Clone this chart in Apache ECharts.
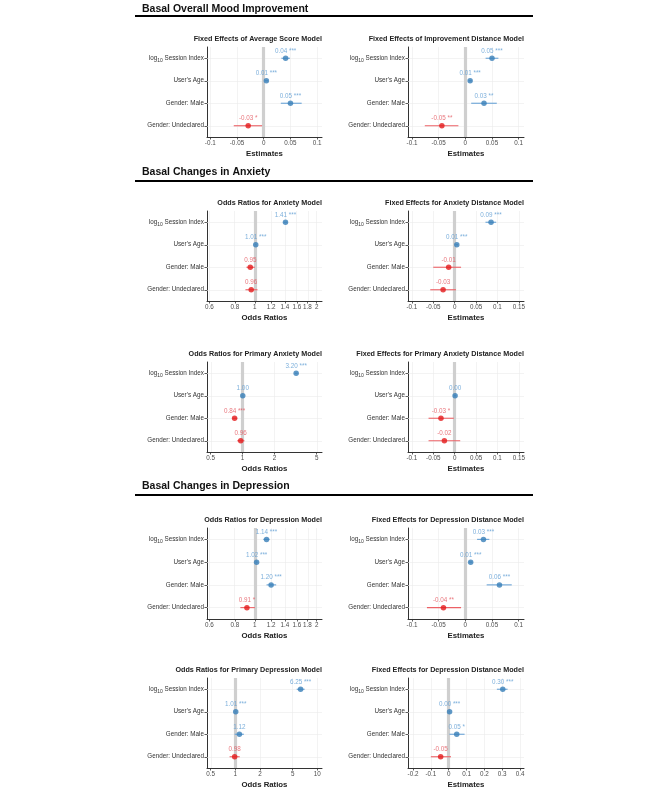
<!DOCTYPE html>
<html><head><meta charset="utf-8">
<script src="https://cdn.jsdelivr.net/npm/echarts@6/dist/echarts.min.js"></script>
<style>html,body{margin:0;padding:0;background:#fff}#c{width:666px;height:799px}</style>
</head><body><div id="c"></div>
<script>
// ---------- data ----------
const rowLabels = ['log10 Session Index', "User's Age", 'Gender: Male', 'Gender: Undeclared'];

const sectionTitles = ['Basal Overall Mood Improvement', 'Basal Changes in Anxiety', 'Basal Changes in Depression'];

const linTicksA = ['-0.1', '-0.05', '0', '0.05', '0.1'];
const linTicksB = ['-0.1', '-0.05', '0', '0.05', '0.1', '0.15'];
const linTicksC = ['-0.2', '-0.1', '0', '0.1', '0.2', '0.3', '0.4'];
const orTicksA = ['0.6', '0.8', '1', '1.2', '1.4', '1.6', '1.8', '2'];
const orTicksB = ['0.5', '1', '2', '5'];
const orTicksC = ['0.5', '1', '2', '5', '10'];

// Average Score Model (estimates)
const avgEst = [0.041, 0.005, 0.050, -0.029];
const avgLow = [0.033, 0.002, 0.032, -0.056];
const avgHigh = [0.049, 0.008, 0.071, -0.003];
const avgLabels = ['0.04 ***', '0.01 ***', '0.05 ***', '-0.03 *'];

// Improvement Distance Model (estimates)
const impEst = [0.050, 0.009, 0.035, -0.044];
const impLow = [0.038, 0.006, 0.011, -0.076];
const impHigh = [0.062, 0.012, 0.059, -0.013];
const impLabels = ['0.05 ***', '0.01 ***', '0.03 **', '-0.05 **'];

// Anxiety Model (odds ratios)
const anxEst = [1.41, 1.01, 0.95, 0.96];
const anxLow = [1.38, 1.003, 0.91, 0.90];
const anxHigh = [1.44, 1.017, 1.00, 1.03];
const anxLabels = ['1.41 ***', '1.01 ***', '0.95', '0.96'];

// Anxiety Distance Model (estimates)
const anxDistEst = [0.085, 0.005, -0.014, -0.027];
const anxDistLow = [0.072, 0.002, -0.050, -0.057];
const anxDistHigh = [0.097, 0.008, 0.015, 0.003];
const anxDistLabels = ['0.09 ***', '0.01 ***', '-0.01', '-0.03'];

// Primary Anxiety Model (odds ratios)
const pAnxEst = [3.20, 1.003, 0.84, 0.96];
const pAnxLow = [3.10, 0.998, 0.80, 0.89];
const pAnxHigh = [3.30, 1.008, 0.89, 1.04];
const pAnxLabels = ['3.20 ***', '1.00', '0.84 ***', '0.96'];

// Primary Anxiety Distance Model (estimates)
const pAnxDistEst = [null, 0.001, -0.032, -0.024];
const pAnxDistLow = [null, -0.002, -0.061, -0.061];
const pAnxDistHigh = [null, 0.004, -0.002, 0.013];
const pAnxDistLabels = ['', '0.00', '-0.03 *', '-0.02'];

// Depression Model (odds ratios)
const depEst = [1.14, 1.02, 1.20, 0.915];
const depLow = [1.10, 1.01, 1.14, 0.85];
const depHigh = [1.18, 1.03, 1.27, 1.00];
const depLabels = ['1.14 ***', '1.02 ***', '1.20 ***', '0.91 *'];

// Depression Distance Model (estimates)
const depDistEst = [0.034, 0.010, 0.064, -0.041];
const depDistLow = [0.022, 0.007, 0.040, -0.072];
const depDistHigh = [0.045, 0.013, 0.087, -0.008];
const depDistLabels = ['0.03 ***', '0.01 ***', '0.06 ***', '-0.04 **'];

// Primary Depression Model (odds ratios)
const pDepEst = [6.25, 1.01, 1.12, 0.98];
const pDepLow = [5.60, 1.00, 0.98, 0.85];
const pDepHigh = [7.00, 1.02, 1.27, 1.13];
const pDepLabels = ['6.25 ***', '1.01 ***', '1.12', '0.98'];

// Primary Depression Distance Model (estimates)
const pDepDistEst = [0.303, 0.005, 0.045, -0.045];
const pDepDistLow = [0.270, 0.002, 0.004, -0.100];
const pDepDistHigh = [0.330, 0.008, 0.089, 0.013];
const pDepDistLabels = ['0.30 ***', '0.00 ***', '0.05 *', '-0.05'];

// ---------- layout / style ----------
const FONT = '"Liberation Sans", Arial, sans-serif';
const BLUE = '#377eb8', RED = '#e41a1c';
const BLUE_T = '#5b9bd2', RED_T = '#e4545c';
const BLUE_L = '#6aa3d6', RED_L = '#ec6166';

const cols = [{ left: 207, width: 115 }, { left: 408, width: 116 }];
const rows = [{ top: 47, height: 90 }, { top: 211, height: 90 }, { top: 362, height: 90 }, { top: 528, height: 91 }, { top: 678, height: 90 }];
const headers = [{ cy: 9.5, ly: 16 }, { cy: 172.5, ly: 181 }, { cy: 486, ly: 495 }];

const panels = [
  { title: 'Fixed Effects of Average Score Model', col: 0, row: 0, est: avgEst, lo: avgLow, hi: avgHigh, lab: avgLabels, ticks: linTicksA, log: false, min: -0.106, max: 0.109, name: 'Estimates' },
  { title: 'Fixed Effects of Improvement Distance Model', col: 1, row: 0, est: impEst, lo: impLow, hi: impHigh, lab: impLabels, ticks: linTicksA, log: false, min: -0.1075, max: 0.11, name: 'Estimates' },
  { title: 'Odds Ratios for Anxiety Model', col: 0, row: 1, est: anxEst, lo: anxLow, hi: anxHigh, lab: anxLabels, ticks: orTicksA, log: true, min: -0.233, max: 0.327, name: 'Odds Ratios' },
  { title: 'Fixed Effects for Anxiety Distance Model', col: 1, row: 1, est: anxDistEst, lo: anxDistLow, hi: anxDistHigh, lab: anxDistLabels, ticks: linTicksB, log: false, min: -0.109, max: 0.162, name: 'Estimates' },
  { title: 'Odds Ratios for Primary Anxiety Model', col: 0, row: 2, est: pAnxEst, lo: pAnxLow, hi: pAnxHigh, lab: pAnxLabels, ticks: orTicksB, log: true, min: -0.336, max: 0.749, name: 'Odds Ratios' },
  { title: 'Fixed Effects for Primary Anxiety Distance Model', col: 1, row: 2, est: pAnxDistEst, lo: pAnxDistLow, hi: pAnxDistHigh, lab: pAnxDistLabels, ticks: linTicksB, log: false, min: -0.109, max: 0.162, name: 'Estimates' },
  { title: 'Odds Ratios for Depression Model', col: 0, row: 3, est: depEst, lo: depLow, hi: depHigh, lab: depLabels, ticks: orTicksA, log: true, min: -0.233, max: 0.327, name: 'Odds Ratios' },
  { title: 'Fixed Effects for Depression Distance Model', col: 1, row: 3, est: depDistEst, lo: depDistLow, hi: depDistHigh, lab: depDistLabels, ticks: linTicksA, log: false, min: -0.1075, max: 0.11, name: 'Estimates' },
  { title: 'Odds Ratios for Primary Depression Model', col: 0, row: 4, est: pDepEst, lo: pDepLow, hi: pDepHigh, lab: pDepLabels, ticks: orTicksC, log: true, min: -0.346, max: 1.057, name: 'Odds Ratios' },
  { title: 'Fixed Effects for Depression Distance Model', col: 1, row: 4, est: pDepDistEst, lo: pDepDistLow, hi: pDepDistHigh, lab: pDepDistLabels, ticks: linTicksC, log: false, min: -0.228, max: 0.422, name: 'Estimates' }
];

// ---------- build option ----------
const grid = [], xAxis = [], yAxis = [], series = [], title = [], graphic = [];

sectionTitles.forEach((t, i) => {
  title.push({
    text: t, left: 142, top: headers[i].cy - 7, padding: 0,
    textStyle: { fontSize: 10.5, lineHeight: 14, fontWeight: 'bold', color: '#111', fontFamily: FONT }
  });
  graphic.push({
    type: 'line', silent: true,
    shape: { x1: 135, y1: headers[i].ly, x2: 533, y2: headers[i].ly },
    style: { stroke: '#000', lineWidth: 2 }
  });
});

const ylabelFmt = v => v.indexOf('log10') === 0
  ? '{a|log}{s|10}{a|' + v.slice(5) + '}'
  : '{a|' + v + '}';

panels.forEach((p, k) => {
  const c = cols[p.col], r = rows[p.row];
  const tf = p.log ? (v => Math.log10(v)) : (v => v);
  const tickVals = p.ticks.map(t => tf(parseFloat(t)));
  const labelFor = v => {
    let best = 0, bd = Infinity;
    tickVals.forEach((tv, i) => { const d = Math.abs(tv - v); if (d < bd) { bd = d; best = i; } });
    return p.ticks[best];
  };
  const posFn = v => p.log ? v > 1 : v > 0;

  grid.push({ left: c.left, top: r.top, width: c.width, height: r.height, containLabel: false });
  title.push({
    text: p.title, right: 666 - (c.left + c.width), top: r.top - 12.5, padding: 0,
    textStyle: { fontSize: 7.2, lineHeight: 9, fontWeight: 'bold', color: '#222', fontFamily: FONT }
  });
  xAxis.push({
    gridIndex: k, type: 'value', min: p.min, max: p.max,
    axisLine: { show: true, onZero: false, lineStyle: { color: '#333', width: 1 } },
    axisTick: { show: true, length: 2.5, customValues: tickVals, lineStyle: { color: '#333', width: 0.8 } },
    axisLabel: { customValues: tickVals, formatter: labelFor, fontSize: 6.3, color: '#4d4d4d', margin: 3.5, fontFamily: FONT },
    splitLine: { show: false },
    name: p.name, nameLocation: 'middle', nameGap: 13,
    nameTextStyle: { fontSize: 7.8, fontWeight: 'bold', color: '#222', fontFamily: FONT }
  });
  yAxis.push({
    gridIndex: k, type: 'category', data: rowLabels, inverse: true,
    axisLine: { show: true, onZero: false, lineStyle: { color: '#333', width: 1 } },
    axisTick: { show: true, length: 2.5, alignWithLabel: true, lineStyle: { color: '#333', width: 0.8 } },
    axisLabel: {
      margin: 3, formatter: ylabelFmt,
      rich: {
        a: { fontSize: 6.3, color: '#333', fontFamily: FONT },
        s: { fontSize: 5, color: '#333', fontFamily: FONT, padding: [4, 0, 0, 0] }
      }
    },
    splitLine: { show: false }
  });

  const ebData = [], ptData = [];
  p.est.forEach((e, i) => {
    if (e === null) return;
    const pos = posFn(e);
    ebData.push({ value: [tf(p.lo[i]), tf(p.hi[i]), i], itemStyle: { color: pos ? BLUE_L : RED_L } });
    ptData.push({
      value: [tf(e), i],
      itemStyle: { color: pos ? BLUE : RED },
      label: { color: pos ? BLUE_T : RED_T, formatter: p.lab[i] }
    });
  });

  const mlData = [];
  tickVals.forEach(v => mlData.push({ xAxis: v, lineStyle: { color: '#ebebeb', width: 0.6, type: 'solid' } }));
  rowLabels.forEach(l => mlData.push({ yAxis: l, lineStyle: { color: '#ebebeb', width: 0.6, type: 'solid' } }));
  mlData.push({ xAxis: 0, lineStyle: { color: '#cfcfcf', width: 3.2, type: 'solid' } });

  series.push({
    type: 'custom', xAxisIndex: k, yAxisIndex: k, z: 4, silent: true,
    encode: { x: [0, 1], y: 2 },
    renderItem: (params, api) => {
      const y = api.value(2);
      const a = api.coord([api.value(0), y]);
      const b = api.coord([api.value(1), y]);
      return { type: 'line', shape: { x1: a[0], y1: a[1], x2: b[0], y2: b[1] }, style: { stroke: api.visual('color'), lineWidth: 1.1 } };
    },
    data: ebData
  });
  series.push({
    type: 'scatter', xAxisIndex: k, yAxisIndex: k, z: 5, symbolSize: 5.5, silent: true,
    label: { show: true, position: 'top', distance: 1.5, fontSize: 6.3, fontFamily: FONT },
    data: ptData,
    markLine: { silent: true, z: 1, symbol: ['none', 'none'], label: { show: false }, animation: false, data: mlData }
  });
});

const chart = echarts.init(document.getElementById('c'), null, { renderer: 'canvas' });
chart.setOption({
  backgroundColor: '#fff', animation: false,
  title, grid, xAxis, yAxis, series, graphic
});
</script></body></html>
